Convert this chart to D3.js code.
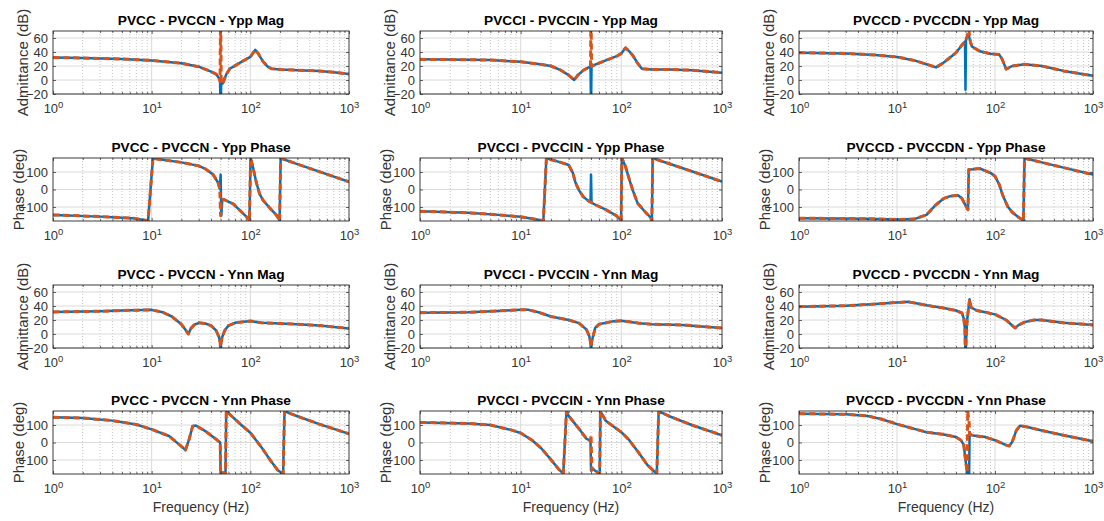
<!DOCTYPE html>
<html>
<head>
<meta charset="utf-8">
<script src="https://cdn.jsdelivr.net/npm/d3@7"></script>
<style>
  body { margin: 0; background: #fff; }
  svg { display: block; }
  text { font-family: "Liberation Sans", Arial, Helvetica, sans-serif; }
</style>
</head>
<body>
<svg id="fig" width="1104" height="521"></svg>
<script>
// ---------------- labels & ticks ----------------
const caseNames = ["PVCC - PVCCN", "PVCCI - PVCCIN", "PVCCD - PVCCDN"];
const quantityNames = ["Ypp Mag", "Ypp Phase", "Ynn Mag", "Ynn Phase"];
const freqTicks = [1, 10, 100, 1000];
const magTicks = [-20, 0, 20, 40, 60];
const phaseTicks = [-100, 0, 100];
const freqDomain = [1, 1000];
const magDomain = [-20, 70];
const phaseDomain = [-180, 180];

// ---------------- PVCC ----------------
const f_CC_ppMag    = [1, 2, 5, 10, 20, 30, 40, 45, 48, 49.3, 50, 50.7, 52.5, 57, 62, 78, 100, 112, 120, 135, 150, 165, 200, 300, 500, 700, 1000];
const calc_CC_ppMag = [32, 31.5, 30, 28, 24, 19, 12, 8.5, 3, -2, -40, -4, -5, 8, 16, 24.5, 33, 43, 38, 26, 19, 16, 15, 14, 13, 11, 8.5];
const sim_CC_ppMag  = [32, 31.5, 30, 28, 24, 19, 12, 8.5, 3, -2, 100, -4, -5, 8, 16, 24.5, 33, 43, 38, 26, 19, 16, 15, 14, 13, 11, 8.5];

const f_CC_ppPh    = [1, 3, 6.5, 9.2, 10.3, 11, 20, 30, 35, 42, 47, 49, 50, 50.8, 52, 53.5, 67, 95, 98, 100.5, 106, 115, 124, 134, 157, 183, 195, 198, 203, 210, 300, 500, 1000];
const calc_CC_ppPh = [-145, -155, -164, -178, 178, 175, 155, 135, 118, 85, 40, 5, 85, -150, -60, -56, -82, -165, -178, 179, 131, 40, -24, -60, -105, -145, -170, -179, 178, 176, 145, 102, 44];
const sim_CC_ppPh  = [-145, -155, -164, -178, 178, 175, 155, 135, 118, 85, 40, 5, -150, -62, -60, -56, -82, -165, -178, 179, 131, 40, -24, -60, -105, -145, -170, -179, 178, 176, 145, 102, 44];

const f_CC_nnMag    = [1, 3, 5, 10, 13, 16, 20, 22, 23.5, 25, 27, 30, 35, 40, 45, 48, 49.5, 50, 50.5, 52, 55, 60, 70, 100, 130, 200, 300, 500, 1000];
const calc_CC_nnMag = [31.5, 32.5, 33.5, 34.5, 31, 25, 14, 6, 0, 8, 13, 16, 15, 12, 5, -4, -12, -40, -12, -4, 5, 12, 16, 18.5, 16, 15, 14, 12, 8];
const sim_CC_nnMag  = [31.5, 32.5, 33.5, 34.5, 31, 25, 14, 6, 0, 8, 13, 16, 15, 12, 5, -4, -12, -40, -12, -4, 5, 12, 16, 18.5, 16, 15, 14, 12, 8];

const f_CC_nnPh    = [1, 2, 4, 7, 10, 15, 20, 22, 24, 26, 28, 35, 45, 48, 49.5, 50, 53, 56, 57, 60, 80, 100, 130, 160, 190, 215, 222, 230, 300, 500, 1000];
const calc_CC_nnPh = [144, 140, 125, 103, 75, 37, -22, -43, 19, 93, 97, 65, 19, 5, 0, -180, -172, -178, 178, 168, 103, 56, -28, -103, -159, -179, 179, 175, 150, 105, 50];
const sim_CC_nnPh  = [144, 140, 125, 103, 75, 37, -22, -43, 19, 93, 97, 65, 19, 5, 0, -180, -172, -178, 178, 168, 103, 56, -28, -103, -159, -179, 179, 175, 150, 105, 50];

// ---------------- PVCCI ----------------
const f_CCI_ppMag    = [1, 5, 10, 15, 20, 25, 30, 34, 37, 42, 48, 49.4, 50, 50.6, 55, 70, 90, 100, 110, 120, 130, 145, 160, 200, 300, 500, 1000];
const calc_CCI_ppMag = [29.5, 28.6, 26, 23, 20, 14, 7, 0, 7, 14, 18.5, 19, -40, 19.5, 22, 28, 34, 38, 46, 41, 35, 24, 16, 15, 15, 14, 10.5];
const sim_CCI_ppMag  = [29.5, 28.6, 26, 23, 20, 14, 7, 0, 7, 14, 18.5, 19, 100, 19.5, 22, 28, 34, 38, 46, 41, 35, 24, 16, 15, 15, 14, 10.5];

const f_CCI_ppPh    = [1, 3, 6, 10, 14, 16.8, 18, 25, 30, 33, 35, 38, 42, 48, 49.4, 50, 50.6, 55, 70, 90, 99.5, 101, 103, 110, 120, 130, 145, 170, 195, 201, 205, 210, 300, 500, 1000];
const calc_CCI_ppPh = [-124, -133, -145, -156, -170, -179, 178, 155, 140, 95, 40, -5, -42, -69, -72, 85, -75, -87, -115, -151, -178, 179, 170, 131, 58, -5, -78, -124, -160, -179, 179, 177, 147, 104, 45];
const sim_CCI_ppPh  = [-124, -133, -145, -156, -170, -179, 178, 155, 140, 95, 40, -5, -42, -69, -72, -73, -75, -87, -115, -151, -178, 179, 170, 131, 58, -5, -78, -124, -160, -179, 179, 177, 147, 104, 45];

const f_CCI_nnMag    = [1, 3, 6, 10, 12, 15, 20, 30, 38, 45, 48, 49.5, 50, 50.5, 52, 55, 60, 80, 100, 150, 200, 400, 1000];
const calc_CCI_nnMag = [30.5, 31, 33, 34.5, 34.5, 31, 25, 20, 15.5, 6.4, -3, -12, -40, -12, -5, 8.6, 14, 17.7, 19, 15.5, 14, 13, 8.6];
const sim_CCI_nnMag  = [30.5, 31, 33, 34.5, 34.5, 31, 25, 20, 15.5, 6.4, -3, -12, -40, -12, -5, 8.6, 14, 17.7, 19, 15.5, 14, 13, 8.6];

const f_CCI_nnPh    = [1, 3, 5, 8, 10, 13, 16, 20, 24, 26.5, 28.5, 30, 38, 45, 48, 49.4, 50, 51, 52, 56, 61, 62, 70, 100, 120, 150, 180, 210, 225, 235, 240, 300, 500, 1000];
const calc_CCI_nnPh = [115, 109, 100, 72, 54, 13, -33, -98, -154, -178, 178, 152, 78, 22, 13, 10, -160, -158, -150, -165, -178, 179, 124, 59, 13, -61, -126, -163, -179, 179, 176, 150, 100, 41];
const sim_CCI_nnPh  = [115, 109, 100, 72, 54, 13, -33, -98, -154, -178, 178, 152, 78, 22, 13, 10, 45, -158, -150, -165, -178, 179, 124, 59, 13, -61, -126, -163, -179, 179, 176, 150, 100, 41];

// ---------------- PVCCD ----------------
const f_CCD_ppMag    = [1, 3, 6, 10, 15, 20, 25, 30, 40, 46, 49.4, 50, 50.6, 52, 54, 56, 58, 70, 90, 110, 118, 130, 150, 200, 300, 500, 1000];
const calc_CCD_ppMag = [39, 38, 35.7, 33, 28, 22.5, 18, 25, 39, 50, 55, -14, 58, 62, 64, 55, 48, 41, 37.5, 36.6, 30, 15.5, 20, 22.5, 20, 13, 6];
const sim_CCD_ppMag  = [39, 38, 35.7, 33, 28, 22.5, 18, 25, 39, 50, 55, 57, 58, 62, 72, 55, 48, 41, 37.5, 36.6, 30, 15.5, 20, 22.5, 20, 13, 6];

const f_CCD_ppPh    = [1, 5, 10, 15, 20, 25, 30, 35, 42, 46, 50, 53, 54, 60, 70, 90, 100, 110, 120, 135, 150, 175, 190, 195, 200, 300, 500, 1000];
const calc_CCD_ppPh = [-164, -167, -171, -169, -145, -87, -51, -38, -33, -51, -91, -115, 114, 116, 120, 95, 76, 31, -33, -98, -130, -160, -172, -179, 179, 155, 125, 85];
const sim_CCD_ppPh  = [-164, -167, -171, -169, -145, -87, -51, -38, -33, -51, -91, -115, 114, 116, 120, 95, 76, 31, -33, -98, -130, -160, -172, -179, 179, 155, 125, 85];

const f_CCD_nnMag    = [1, 3, 6, 10, 13, 20, 30, 40, 46, 48, 49.3, 50, 50.7, 52, 54, 55, 57, 65, 80, 100, 130, 145, 160, 175, 200, 250, 300, 500, 1000];
const calc_CCD_nnMag = [39, 40.5, 42.7, 45, 46, 41, 37, 33.6, 30, 22, 8, -40, -10, 20, 40, 49.5, 38, 33.6, 31, 28, 20, 14, 8.6, 13, 17, 20, 20, 16, 13];
const sim_CCD_nnMag  = [39, 40.5, 42.7, 45, 46, 41, 37, 33.6, 30, 22, 8, -40, -10, 20, 40, 49.5, 38, 33.6, 31, 28, 20, 14, 8.6, 13, 17, 20, 20, 16, 13];

const f_CCD_nnPh    = [1, 3, 5, 7, 10, 15, 20, 30, 40, 45, 48, 50, 52, 52.7, 54.5, 55, 56, 60, 80, 100, 130, 140, 150, 165, 180, 220, 300, 500, 1000];
const calc_CCD_nnPh = [165, 161, 152, 133, 105, 78, 59, 46, 31, 13, -15, -100, -170, -175, -179, 50, 45, 40, 31, 13, -15, -20, 4, 69, 96, 87, 69, 41, 7];
const sim_CCD_nnPh  = [165, 161, 152, 133, 105, 78, 59, 46, 31, 13, -15, -100, -170, 180, 110, 55, 45, 40, 31, 13, -15, -20, 4, 69, 96, 87, 69, 41, 7];

// ---------------- panel table ----------------
const panels = [
  [f_CC_ppMag,  calc_CC_ppMag,  sim_CC_ppMag],
  [f_CC_ppPh,   calc_CC_ppPh,   sim_CC_ppPh],
  [f_CC_nnMag,  calc_CC_nnMag,  sim_CC_nnMag],
  [f_CC_nnPh,   calc_CC_nnPh,   sim_CC_nnPh],
  [f_CCI_ppMag, calc_CCI_ppMag, sim_CCI_ppMag],
  [f_CCI_ppPh,  calc_CCI_ppPh,  sim_CCI_ppPh],
  [f_CCI_nnMag, calc_CCI_nnMag, sim_CCI_nnMag],
  [f_CCI_nnPh,  calc_CCI_nnPh,  sim_CCI_nnPh],
  [f_CCD_ppMag, calc_CCD_ppMag, sim_CCD_ppMag],
  [f_CCD_ppPh,  calc_CCD_ppPh,  sim_CCD_ppPh],
  [f_CCD_nnMag, calc_CCD_nnMag, sim_CCD_nnMag],
  [f_CCD_nnPh,  calc_CCD_nnPh,  sim_CCD_nnPh]
];

// ---------------- layout ----------------
const colX = [[53, 349], [420, 722], [799, 1093]];
const rowY = [[31, 94], [158, 221], [285, 348], [411, 474]];
const axisColor = "#262626";
const blue = "#0072BD", orange = "#D95319";

const svg = d3.select("#fig");
const defs = svg.append("defs");

const minorFreqs = [];
for (let d = 1; d < 1000; d *= 10) for (let k = 2; k <= 9; k++) minorFreqs.push(d * k);

panels.forEach((p, idx) => {
  const c = Math.floor(idx / 4), r = idx % 4;
  const [x0, x1] = colX[c], [y0, y1] = rowY[r];
  const isMag = r % 2 === 0;
  const x = d3.scaleLog().domain(freqDomain).range([x0, x1]);
  const y = d3.scaleLinear().domain(isMag ? magDomain : phaseDomain).range([y1, y0]);
  const yTicks = isMag ? magTicks : phaseTicks;
  const g = svg.append("g");

  const clipId = "clip" + idx;
  defs.append("clipPath").attr("id", clipId)
    .append("rect").attr("x", x0).attr("y", y0).attr("width", x1 - x0).attr("height", y1 - y0);

  // grid
  g.append("g").selectAll("line").data(minorFreqs).join("line")
    .attr("x1", d => x(d)).attr("x2", d => x(d)).attr("y1", y0).attr("y2", y1)
    .attr("stroke", "#b5b5b5").attr("stroke-width", 0.8).attr("stroke-dasharray", "1,2");
  g.append("g").selectAll("line").data(freqTicks.slice(1, -1)).join("line")
    .attr("x1", d => x(d)).attr("x2", d => x(d)).attr("y1", y0).attr("y2", y1)
    .attr("stroke", "#dadada").attr("stroke-width", 1);
  g.append("g").selectAll("line").data(yTicks).join("line")
    .attr("x1", x0).attr("x2", x1).attr("y1", d => y(d)).attr("y2", d => y(d))
    .attr("stroke", "#dadada").attr("stroke-width", 1);

  // traces
  const [f, a, b] = p;
  const line = d3.line().x(d => x(d[0])).y(d => y(d[1]));
  const ptsA = f.map((v, i) => [v, a[i]]);
  const ptsB = f.map((v, i) => [v, b[i]]);
  const traces = g.append("g").attr("clip-path", `url(#${clipId})`);
  traces.append("path").attr("d", line(ptsA)).attr("fill", "none")
    .attr("stroke", blue).attr("stroke-width", 2.5).attr("stroke-linejoin", "round");
  traces.append("path").attr("d", line(ptsB)).attr("fill", "none")
    .attr("stroke", orange).attr("stroke-width", 3).attr("stroke-linejoin", "round")
    .attr("stroke-dasharray", "6.5,3.5");

  // axes
  const xb = g.append("g").attr("transform", `translate(0,${y1})`)
    .call(d3.axisBottom(x).tickValues(freqTicks).tickSizeInner(-3).tickSizeOuter(0).tickPadding(6));
  g.append("g").attr("transform", `translate(0,${y1})`)
    .call(d3.axisBottom(x).tickValues(minorFreqs).tickSizeInner(-2).tickSizeOuter(0).tickFormat(""));
  g.append("g").attr("transform", `translate(0,${y0})`)
    .call(d3.axisTop(x).tickValues(freqTicks).tickSizeInner(-3).tickSizeOuter(0).tickFormat(""));
  g.append("g").attr("transform", `translate(0,${y0})`)
    .call(d3.axisTop(x).tickValues(minorFreqs).tickSizeInner(-2).tickSizeOuter(0).tickFormat(""));
  g.append("g").attr("transform", `translate(${x0},0)`)
    .call(d3.axisLeft(y).tickValues(yTicks).tickSizeInner(-3).tickSizeOuter(0).tickPadding(5));
  g.append("g").attr("transform", `translate(${x1},0)`)
    .call(d3.axisRight(y).tickValues(yTicks).tickSizeInner(-3).tickSizeOuter(0).tickFormat(""));

  g.selectAll(".domain").remove();
  g.selectAll(".tick line").attr("stroke", axisColor).attr("stroke-width", 0.7);
  g.selectAll(".tick text").attr("fill", "#333").style("font-size", "13px")
    .style("font-family", '"Liberation Sans", Arial, sans-serif');

  // decade labels as 10 with a superscript exponent
  xb.selectAll(".tick text").each(function (d) {
    const t = d3.select(this).text("").attr("dy", "1.0em");
    t.append("tspan").text("10");
    t.append("tspan").text(Math.round(Math.log10(d))).attr("dy", "-0.5em").style("font-size", "9.5px");
  });

  // box
  g.append("rect").attr("x", x0).attr("y", y0).attr("width", x1 - x0).attr("height", y1 - y0)
    .attr("fill", "none").attr("stroke", axisColor).attr("stroke-width", 0.9);

  // title
  g.append("text").attr("x", (x0 + x1) / 2).attr("y", y0 - 6).attr("text-anchor", "middle")
    .style("font-size", "13.7px").style("font-weight", "bold").attr("fill", "#000")
    .text(caseNames[c] + " - " + quantityNames[r]);

  // y label
  const yOff = isMag ? 30 : 34;
  g.append("text")
    .attr("transform", `translate(${x0 - yOff},${(y0 + y1) / 2}) rotate(-90)`)
    .attr("text-anchor", "middle").attr("dy", "0.35em")
    .style("font-size", "15px").attr("fill", "#333")
    .text(isMag ? "Admittance (dB)" : "Phase (deg)");

  // x label on the bottom row
  if (r === 3) {
    g.append("text").attr("x", (x0 + x1) / 2).attr("y", y1 + 38).attr("text-anchor", "middle")
      .style("font-size", "14px").attr("fill", "#333").text("Frequency (Hz)");
  }
});
</script>
</body>
</html>
